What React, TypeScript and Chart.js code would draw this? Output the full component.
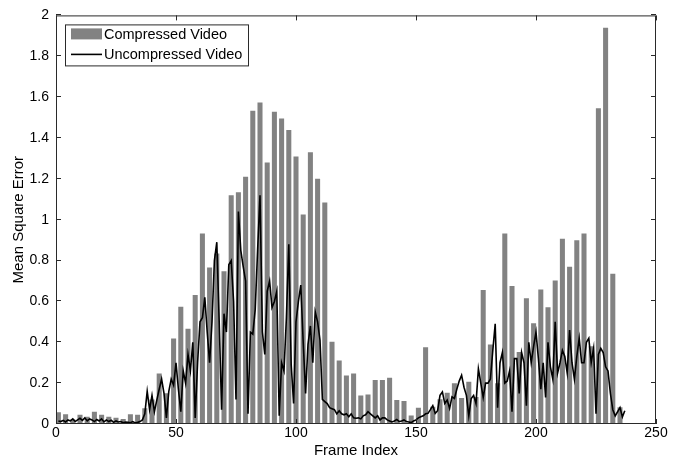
import React, { useEffect, useRef } from 'react';
import { Chart, registerables } from 'chart.js';

Chart.register(...registerables);

const FONT = '"Liberation Sans", Arial, Helvetica, sans-serif';

const seriesLabels = ['Compressed Video', 'Uncompressed Video'];
const xTitle = 'Frame Index';
const yTitle = 'Mean Square Error';

const xTickValues = [0, 50, 100, 150, 200, 250];
const yTickValues = [0, 0.2, 0.4, 0.6, 0.8, 1, 1.2, 1.4, 1.6, 1.8, 2];

// Frames at which the compressed-video bars are plotted
const barFrames = [
  1, 4, 7, 10, 13, 16, 19, 22, 25, 28,
  31, 34, 37, 40, 43, 46, 49, 52, 55, 58,
  61, 64, 67, 70, 73, 76, 79, 82, 85, 88,
  91, 94, 97, 100, 103, 106, 109, 112, 115, 118,
  121, 124, 127, 130, 133, 136, 139, 142, 145, 148,
  151, 154, 157, 160, 163, 166, 169, 172, 175, 178,
  181, 184, 187, 190, 193, 196, 199, 202, 205, 208,
  211, 214, 217, 220, 223, 226, 229, 232, 235,
];

const compressedMSE = [
  0.057, 0.048, 0.022, 0.045, 0.035, 0.06, 0.045, 0.035, 0.03, 0.025,
  0.048, 0.045, 0.077, 0.12, 0.247, 0.15, 0.418, 0.574, 0.466, 0.631,
  0.933, 0.766, 0.835, 0.748, 1.12, 1.134, 1.21, 1.533, 1.574, 1.28,
  1.528, 1.495, 1.439, 1.309, 1.025, 1.33, 1.2, 1.084, 0.402, 0.311,
  0.238, 0.247, 0.14, 0.144, 0.215, 0.215, 0.226, 0.117, 0.112, 0.041,
  0.08, 0.376, 0.085, 0.121, 0.153, 0.2, 0.127, 0.207, 0.132, 0.656,
  0.389, 0.2, 0.932, 0.675, 0.352, 0.615, 0.493, 0.658, 0.571, 0.702,
  0.907, 0.77, 0.9, 0.932, 0.38, 1.545, 1.94, 0.736, 0.082,
];

// Uncompressed-video MSE for frames 1 .. 237
const uncompressedStartFrame = 1;
const uncompressedMSE = [
  0.015, 0.012, 0.018, 0.01, 0.02, 0.015, 0.025, 0.012, 0.02, 0.028,
  0.018, 0.03, 0.015, 0.025, 0.02, 0.012, 0.022, 0.015, 0.025, 0.01,
  0.02, 0.012, 0.018, 0.008, 0.015, 0.01, 0.012, 0.006, 0.01, 0.008,
  0.006, 0.012, 0.005, 0.008, 0.012, 0.02, 0.05, 0.16, 0.07, 0.14,
  0.06, 0.117, 0.17, 0.22, 0.15, 0.03, 0.16, 0.22, 0.19, 0.3,
  0.17, 0.06, 0.26, 0.2, 0.34, 0.26, 0.4, 0.03, 0.3, 0.5,
  0.52, 0.62, 0.45, 0.3, 0.5, 0.8, 0.89, 0.5, 0.07, 0.54,
  0.45, 0.78, 0.8, 0.6, 0.12, 1.04, 0.85, 0.77, 0.7, 0.05,
  0.45, 0.44, 0.56, 0.85, 1.12, 0.45, 0.34, 0.65, 0.7, 0.57,
  0.6, 0.65, 0.04, 0.3, 0.26, 0.52, 0.88, 0.29, 0.1, 0.5,
  0.6, 0.68, 0.4, 0.15, 0.39, 0.48, 0.3, 0.55, 0.5, 0.41,
  0.12, 0.11, 0.1, 0.08, 0.075, 0.07, 0.05, 0.065, 0.05, 0.045,
  0.05, 0.036, 0.05, 0.03, 0.028, 0.03, 0.025, 0.04, 0.045, 0.06,
  0.05, 0.04, 0.03, 0.04, 0.02, 0.03, 0.03, 0.02, 0.015, 0.01,
  0.015, 0.022, 0.012, 0.015, 0.02, 0.012, 0.01, 0.007, 0.015, 0.02,
  0.03, 0.035, 0.04, 0.05, 0.052, 0.07, 0.09, 0.052, 0.065, 0.14,
  0.157, 0.1, 0.117, 0.076, 0.133, 0.125, 0.17, 0.21, 0.239, 0.18,
  0.14, 0.04, 0.125, 0.14, 0.1, 0.27, 0.2, 0.13, 0.2, 0.2,
  0.22, 0.36, 0.49, 0.08, 0.3, 0.35, 0.2, 0.21, 0.26, 0.06,
  0.32, 0.32, 0.15, 0.35, 0.3, 0.09, 0.4, 0.3, 0.38, 0.45,
  0.32, 0.17, 0.3, 0.13, 0.4, 0.28, 0.22, 0.5, 0.25, 0.3,
  0.36, 0.33, 0.25, 0.46, 0.3, 0.22, 0.33, 0.42, 0.3, 0.3,
  0.4, 0.42, 0.3, 0.37, 0.05, 0.34, 0.37, 0.35, 0.28, 0.26,
  0.15, 0.07, 0.04, 0.06, 0.08, 0.035, 0.065,
];

const BAR_COLOR = '#828282';
const LINE_COLOR = '#000000';
const FRAME_COLOR = '#2a2a2a';

const framePlugin = {
  id: 'matlabFrame',
  afterDraw(chart: any) {
    const { ctx, chartArea, scales } = chart;
    const { left, right, top, bottom } = chartArea;
    const xs = scales.x;
    const ys = scales.y;
    ctx.save();
    ctx.strokeStyle = FRAME_COLOR;
    ctx.lineWidth = 1;
    ctx.strokeRect(left + 0.5, top + 0.5, right - left - 1, bottom - top - 1);
    const tl = 5;
    ctx.beginPath();
    xTickValues.forEach((v) => {
      const px = Math.round(xs.getPixelForValue(v)) + 0.5;
      ctx.moveTo(px, bottom);
      ctx.lineTo(px, bottom - tl);
      ctx.moveTo(px, top);
      ctx.lineTo(px, top + tl);
    });
    yTickValues.forEach((v) => {
      const py = Math.round(ys.getPixelForValue(v)) - 0.5;
      ctx.moveTo(left, py);
      ctx.lineTo(left + tl, py);
      ctx.moveTo(right, py);
      ctx.lineTo(right - tl, py);
    });
    ctx.stroke();

    // Legend box (MATLAB style, inside the axes, top-left)
    const lx = left + 9;
    const ly = top + 9;
    const lw = 183;
    const lh = 41;
    ctx.fillStyle = '#ffffff';
    ctx.fillRect(lx, ly, lw, lh);
    ctx.strokeStyle = FRAME_COLOR;
    ctx.strokeRect(lx + 0.5, ly + 0.5, lw, lh);
    const ds = chart.data.datasets;
    const barDs = ds.find((d: any) => d.type === 'bar');
    const lineDs = ds.find((d: any) => d.type === 'line');
    ctx.fillStyle = barDs.backgroundColor;
    ctx.fillRect(lx + 6, ly + 4, 31, 11);
    ctx.strokeStyle = lineDs.borderColor;
    ctx.lineWidth = 1.6;
    ctx.beginPath();
    ctx.moveTo(lx + 6, ly + 30);
    ctx.lineTo(lx + 37, ly + 30);
    ctx.stroke();
    ctx.fillStyle = '#000';
    ctx.font = `14.5px ${FONT}`;
    ctx.textBaseline = 'middle';
    ctx.textAlign = 'left';
    ctx.fillText(barDs.label, lx + 39, ly + 11);
    ctx.fillText(lineDs.label, lx + 39, ly + 31);
    ctx.restore();
  },
};

export default function App() {
  const canvasRef = useRef<HTMLCanvasElement | null>(null);

  useEffect(() => {
    document.body.style.margin = '0';
    const canvas = canvasRef.current;
    if (!canvas) return;
    const chart = new Chart(canvas, {
      type: 'bar',
      data: {
        datasets: [
          {
            type: 'line',
            label: seriesLabels[1],
            data: uncompressedMSE.map((v, i) => ({ x: i + uncompressedStartFrame, y: v })),
            borderColor: LINE_COLOR,
            backgroundColor: LINE_COLOR,
            borderWidth: 1.6,
            pointRadius: 0,
            tension: 0,
            fill: false,
            order: 0,
          } as any,
          {
            type: 'bar',
            label: seriesLabels[0],
            data: barFrames.map((f, i) => ({ x: f, y: compressedMSE[i] })),
            backgroundColor: BAR_COLOR,
            borderWidth: 0,
            barPercentage: 0.7,
            categoryPercentage: 1,
            order: 1,
          } as any,
        ],
      },
      options: {
        animation: false,
        responsive: false,
        devicePixelRatio: 1,
        events: [],
        layout: { padding: { left: 0, top: 13, right: 25, bottom: 0 } },
        plugins: {
          legend: { display: false },
          tooltip: { enabled: false },
        },
        scales: {
          x: {
            type: 'linear',
            min: 0,
            max: 250,
            offset: false,
            grid: { display: false, drawTicks: false },
            border: { display: false },
            afterBuildTicks: (s: any) => {
              s.ticks = xTickValues.map((v) => ({ value: v }));
            },
            afterFit: (s: any) => {
              s.height = 37;
            },
            ticks: {
              font: { family: FONT, size: 14 },
              color: '#000',
              padding: 1,
              maxRotation: 0,
              autoSkip: false,
              callback: (v: any) => String(v),
            },
            title: {
              display: true,
              text: xTitle,
              font: { family: FONT, size: 15 },
              color: '#000',
              padding: { top: 0, bottom: 1 },
            },
          },
          y: {
            type: 'linear',
            min: 0,
            max: 2,
            grid: { display: false, drawTicks: false },
            border: { display: false },
            afterBuildTicks: (s: any) => {
              s.ticks = yTickValues.map((v) => ({ value: v }));
            },
            afterFit: (s: any) => {
              s.width = 56;
            },
            ticks: {
              font: { family: FONT, size: 14 },
              color: '#000',
              padding: 7,
              autoSkip: false,
              callback: (v: any) => String(Number(Number(v).toFixed(1))),
            },
            title: {
              display: true,
              text: yTitle,
              font: { family: FONT, size: 15 },
              color: '#000',
              padding: { top: 10, bottom: 0 },
            },
          },
        },
      },
      plugins: [framePlugin],
    } as any);
    return () => {
      chart.destroy();
    };
  }, []);

  return (
    <div style={{ width: 681, height: 461 }}>
      <canvas ref={canvasRef} width={681} height={461} style={{ display: 'block' }} />
    </div>
  );
}
